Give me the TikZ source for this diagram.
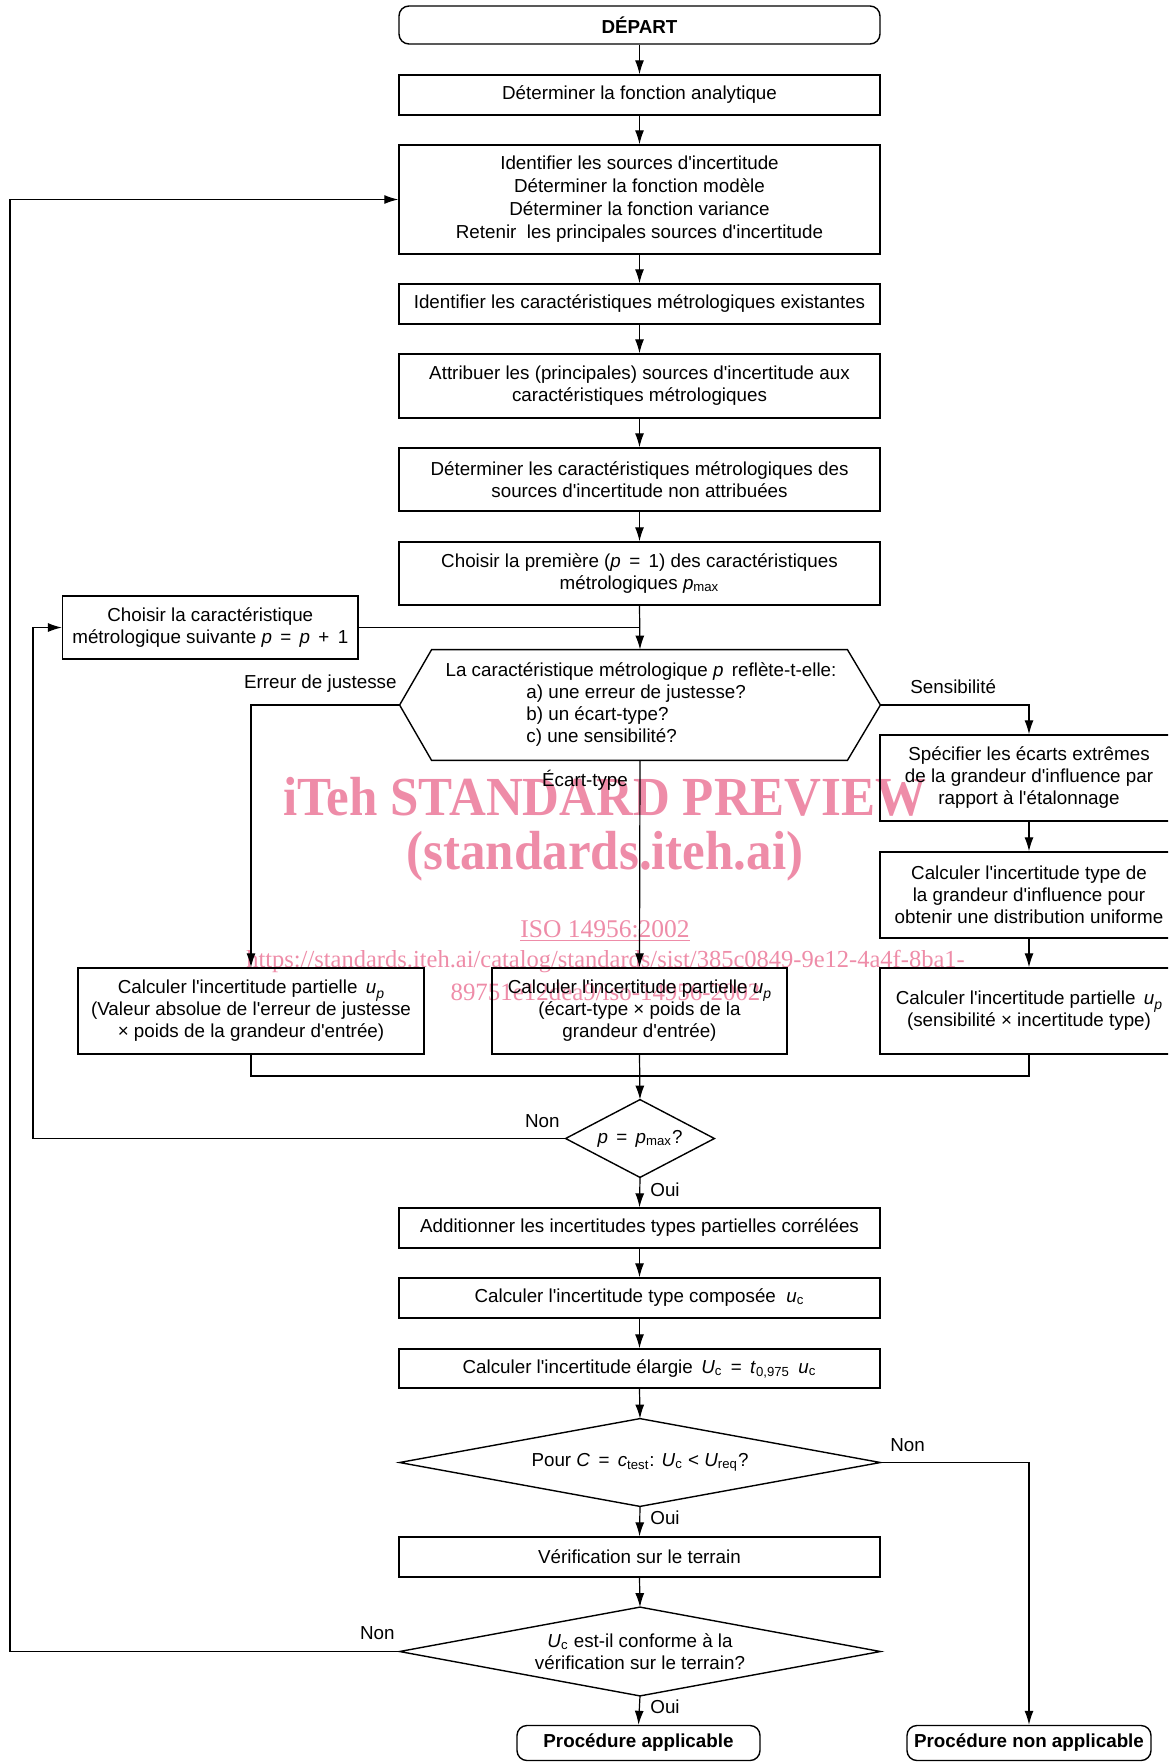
\documentclass[tikz,border=0pt]{standalone}
\usepackage{fontspec}
\setmainfont{Liberation Sans}[Ligatures=TeXOff]
\newfontfamily\wmfont{Liberation Serif}[Ligatures=TeXOff]
\usetikzlibrary{arrows.meta,calc}
\definecolor{wmpink}{RGB}{238,140,168}
\begin{document}
\begin{tikzpicture}[x=0.5pt,y=-0.5pt,
  every node/.style={inner sep=0pt, font=\fontsize{9.4}{11}\selectfont},
  box/.style={draw, line width=0.7pt, align=center, minimum width=240.5pt},
  plain/.style={align=center},
  arr/.style={-{Latex[length=7pt,width=4.5pt]}, line width=0.6pt},
  ln/.style={line width=0.6pt},
  wm/.style={text=wmpink}]
\useasboundingbox (0,0) rectangle (1168,1762);
\clip (0,0) rectangle (1168,1762);
% watermark
\node[wm, anchor=base, yscale=1.08, font=\wmfont\bfseries\fontsize{25.5}{25.5}\selectfont] (wm1) at (605,815) {iTeh STANDARD PREVIEW};
\node[wm, anchor=base, yscale=1.08, font=\wmfont\bfseries\fontsize{25.5}{25.5}\selectfont] (wm2) at (605,869) {(standards.iteh.ai)};
\node[wm, anchor=base, font=\wmfont\fontsize{12.75}{12.75}\selectfont] (wm3) at (605,937) {\underline{ISO 14956:2002}};
\node[wm, anchor=base, font=\wmfont\fontsize{12.25}{12.25}\selectfont] (wm4) at (605.5,967) {https://standards.iteh.ai/catalog/standards/sist/385c0849-9e12-4a4f-8ba1-};
\node[wm, anchor=base, font=\wmfont\fontsize{12.45}{12.45}\selectfont] (wm5) at (605.5,1000) {89751e12dea9/iso-14956-2002};
% main column
\node[box, rounded corners=5pt, minimum height=19pt, font=\bfseries\fontsize{9.4}{11}\selectfont] (start) at (639.5,25) {DÉPART};
\node[box, minimum height=20pt] (b1) at (639.5,95) {Déterminer la fonction analytique};
\node[box, minimum height=54.5pt, font=\fontsize{9.4}{11.5}\selectfont] (b2) at (639.5,199.5) {Identifier les sources d'incertitude\\Déterminer la fonction modèle\\Déterminer la fonction variance\\Retenir\ \ les principales sources d'incertitude};
\node[box, minimum height=20pt] (b3) at (639.5,304) {Identifier les caractéristiques métrologiques existantes};
\node[box, minimum height=32pt] (b4) at (639.5,386) {Attribuer les (principales) sources d'incertitude aux\\caractéristiques métrologiques};
\node[box, minimum height=31.5pt] (b5) at (639.5,479.5) {Déterminer les caractéristiques métrologiques des\\sources d'incertitude non attribuées};
\node[box, minimum height=31.5pt] (b6) at (639.5,573.5) {Choisir la première (\textit{p}\ \,=\ \,1) des caractéristiques\\métrologiques \textit{p}\textsubscript{max}};
\node[box, minimum width=147.7pt, minimum height=31.5pt] (next) at (210.3,627.5) {Choisir la caractéristique\\métrologique suivante \textit{p}\ \,=\ \,\textit{p}\ \,+\ \,1};
% hexagon
\node[plain, minimum width=240pt, minimum height=55pt] (hex) at (640,705) {};
\draw[line width=0.7pt] (hex.west) -- ($(hex.north west)+(32,0)$) -- ($(hex.north east)+(-33,0)$) -- (hex.east) -- ($(hex.south east)+(-33,0)$) -- ($(hex.south west)+(32,0)$) -- cycle;
\node (hext) at (641,672) {La caractéristique métrologique \textit{p}\ \,reflète-t-elle:};
\node[align=left, anchor=west, font=\fontsize{9.4}{10.85}\selectfont] (hexabc) at (526,715.5) {a) une erreur de justesse?\\b) un écart-type?\\c) une sensibilité?};
% branches
\node[box, minimum width=173pt, minimum height=43pt] (lcalc) at (251,1011) {Calculer l'incertitude partielle\ \,\textit{u}\raisebox{-2.5pt}{\scriptsize\textit{p}}\\(Valeur absolue de l'erreur de justesse\\× poids de la grandeur d'entrée)};
\node[box, minimum width=147.5pt, minimum height=43pt] (mcalc) at (639.5,1011) {Calculer l'incertitude partielle \textit{u}\raisebox{-2.5pt}{\scriptsize\textit{p}}\\(écart-type × poids de la\\grandeur d'entrée)};
\node[box, minimum width=149pt, minimum height=43pt] (spec) at (1029,778) {Spécifier les écarts extrêmes\\de la grandeur d'influence par\\rapport à l'étalonnage};
\node[box, minimum width=149pt, minimum height=43pt] (ctype) at (1029,895) {Calculer l'incertitude type de\\la grandeur d'influence pour\\obtenir une distribution uniforme};
\node[box, minimum width=149pt, minimum height=43pt] (rcalc) at (1029,1011) {Calculer l'incertitude partielle\ \,\textit{u}\raisebox{-2.5pt}{\scriptsize\textit{p}}\\(sensibilité × incertitude type)};
\coordinate (merge) at (640,1076);
% decision 1
\node[plain, minimum width=74pt, minimum height=38.5pt] (d1) at (640,1138.5) {\textit{p}\ \,=\ \,\textit{p}\textsubscript{max}?};
\draw[line width=0.7pt] (d1.west) -- (d1.north) -- (d1.east) -- (d1.south) -- cycle;
\node[box, minimum height=20pt] (add) at (639.5,1228) {Additionner les incertitudes types partielles corrélées};
\node[box, minimum height=20pt] (comp) at (639.5,1298) {Calculer l'incertitude type composée\ \ \textit{u}\textsubscript{c}};
\node[box, minimum height=19.5pt] (elarg) at (639.5,1368.5) {Calculer l'incertitude élargie\ \,\textit{U}\textsubscript{c}\ \,=\ \,\textit{t}\textsubscript{0,975}\ \,\textit{u}\textsubscript{c}};
\node[plain, minimum width=240pt, minimum height=43.5pt] (d2) at (640,1462.5) {Pour \textit{C}\ \,=\ \,\textit{c}\textsubscript{test}: \textit{U}\textsubscript{c} < \textit{U}\textsubscript{req}?};
\draw[line width=0.7pt] (d2.west) -- (d2.north) -- (d2.east) -- (d2.south) -- cycle;
\node[box, minimum height=20pt] (verif) at (639.5,1557) {Vérification sur le terrain};
\node[plain, minimum width=240pt, minimum height=44pt, font=\fontsize{9.4}{10.8}\selectfont] (d3) at (640,1651.5) {\textit{U}\textsubscript{c} est-il conforme à la\\vérification sur le terrain?};
\draw[line width=0.7pt] (d3.west) -- (d3.north) -- (d3.east) -- (d3.south) -- cycle;
\node[box, rounded corners=5pt, minimum width=121.5pt, minimum height=17.5pt, font=\bfseries\fontsize{9.4}{11}\selectfont] (procA) at (638.5,1743) {Procédure applicable};
\node[box, rounded corners=5pt, minimum width=122pt, minimum height=17.5pt, font=\bfseries\fontsize{9.4}{11}\selectfont] (procN) at (1029,1743) {Procédure non applicable};
\coordinate (loopA) at (33,0);
\coordinate (loopB) at (10,0);
% labels
\node[anchor=east] (lErr) at (397,684) {Erreur de justesse};
\node[anchor=west] (lSens) at (910,687) {Sensibilité};
\node (lEcart) at (585,780) {Écart-type};
\node[anchor=east] (lNon1) at (560,1121) {Non};
\node[anchor=west] (lOui1) at (650,1190) {Oui};
\node[anchor=west] (lNon2) at (890,1445) {Non};
\node[anchor=west] (lOui2) at (650,1518) {Oui};
\node[anchor=east] (lNon3) at (395,1633) {Non};
\node[anchor=west] (lOui3) at (650,1707) {Oui};
% connectors
\draw[arr] (start.south) -- (b1.north);
\draw[arr] (b1.south) -- (b2.north);
\draw[arr] (b2.south) -- (b3.north);
\draw[arr] (b3.south) -- (b4.north);
\draw[arr] (b4.south) -- (b5.north);
\draw[arr] (b5.south) -- (b6.north);
\draw[arr] (b6.south) -- (hex.north);
\draw[ln] (next.east) -- (next.east -| b6.south);
\draw[arr] (hex.west) -| (lcalc.north);
\draw[arr] (hex.east) -| (spec.north);
\draw[arr] (hex.south) -- (mcalc.north);
\draw[arr] (spec.south) -- (ctype.north);
\draw[arr] (ctype.south) -- (rcalc.north);
\draw[ln] (lcalc.south) |- (merge);
\draw[ln] (rcalc.south) |- (merge);
\draw[arr] (mcalc.south) -- (d1.north);
\draw[arr] (d1.west) -- (loopA |- d1.west) -- (loopA |- next.west) -- (next.west);
\draw[arr] (d1.south) -- (add.north);
\draw[arr] (add.south) -- (comp.north);
\draw[arr] (comp.south) -- (elarg.north);
\draw[arr] (elarg.south) -- (d2.north);
\draw[arr] (d2.east) -| (procN.north);
\draw[arr] (d2.south) -- (verif.north);
\draw[arr] (verif.south) -- (d3.north);
\draw[arr] (d3.south) -- (procA.north);
\draw[arr] (d3.west) -- (loopB |- d3.west) -- (loopB |- b2.west) -- (b2.west);
\end{tikzpicture}
\end{document}
